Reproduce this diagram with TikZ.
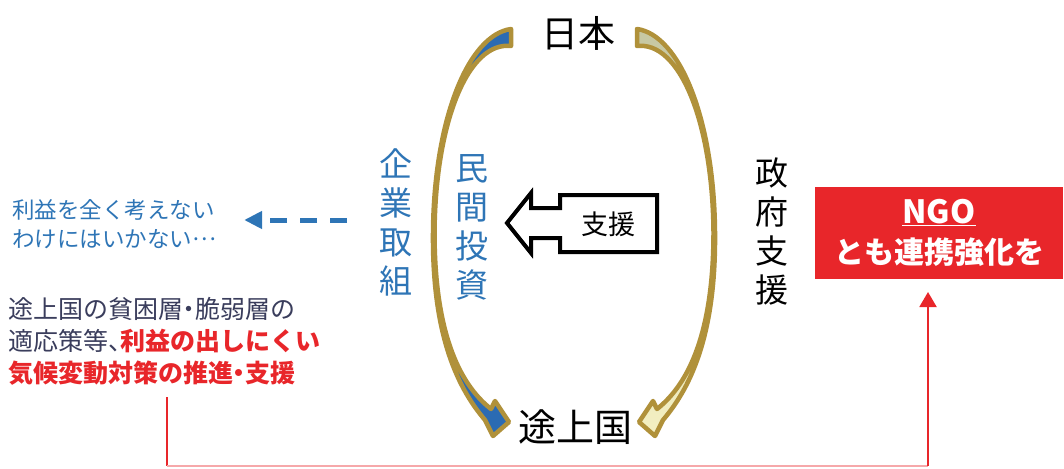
\documentclass[tikz,border=0pt]{standalone}
\usepackage{fontspec}
\setmainfont{Noto Sans CJK JP}
\usetikzlibrary{arrows.meta}
\definecolor{gold}{HTML}{B0913A}
\definecolor{arcblue}{HTML}{2B6BB3}
\definecolor{txtblue}{HTML}{2E75B6}
\definecolor{darktxt}{HTML}{3A3D5C}
\definecolor{accred}{HTML}{E8262A}
\definecolor{khaki}{HTML}{C6C7A2}
\definecolor{paleyel}{HTML}{F4F0C2}
\newcommand{\halfdot}{\makebox[0.5em][c]{・}}
\begin{document}
\begin{tikzpicture}[x=1pt,y=-1pt,
  arcband/.style={draw=gold, line width=4.5pt, line join=round},
  vtext/.style={align=center, inner sep=0pt, font=\fontsize{33}{39}\selectfont},
  bigtext/.style={inner sep=0pt, font=\fontsize{37}{40}\selectfont},
  calloutshape/.style={draw=black, line width=4pt, fill=white, line join=miter},
  dasharrow/.style={draw=txtblue, line width=5pt, dash pattern=on 17pt off 13pt, -{Triangle[length=18pt,width=17pt]}},
  redln/.style={draw=accred, line width=2pt},
  ngobox/.style={fill=accred, minimum width=248pt, minimum height=92pt, inner sep=0pt, text=white, align=center, font=\fontsize{30}{40}\selectfont\bfseries}
]
\useasboundingbox (0,0) rectangle (1064,468);

% curved arrows
\path[arcband, fill=arcblue] (511,46) -- (511,29) .. controls (468,35) and (434,120) .. (433,232)
  .. controls (432,330) and (455,385) .. (485,420) -- (493,436) -- (509,422) -- (495,401) -- (491,409)
  .. controls (458,383) and (434.5,330) .. (434.5,232) .. controls (435.5,120) and (469,41) .. (511,46) -- cycle;
\path[arcband, top color=khaki, bottom color=paleyel] (637,46) -- (637,29) .. controls (680,35) and (714,120) .. (715,232)
  .. controls (716,330) and (693,385) .. (663,420) -- (655,436) -- (639,422) -- (653,401) -- (657,409)
  .. controls (690,383) and (713.5,330) .. (713.5,232) .. controls (712.5,120) and (679,41) .. (637,46) -- cycle;

\node[bigtext] (japan) at (578,33) {日本};
\node[bigtext, font=\fontsize{38}{40}\selectfont] (devc) at (575,427) {途上国};

\node[vtext, text=txtblue] (kigyo) at (396,222) {企\\業\\取\\組};
\node[vtext, text=txtblue] (minkan) at (472,227) {民\\間\\投\\資};
\node[vtext, text=black] (seifu) at (772,232) {政\\府\\支\\援};

% callout arrow
\path[calloutshape] (507,223) -- (531,193) -- (531,208) -- (560,208) -- (560,195) -- (657,195)
  -- (657,252) -- (560,252) -- (560,238) -- (531,238) -- (531,253) -- cycle;
\node[inner sep=0pt, font=\fontsize{27}{30}\selectfont] (shien) at (608,224) {支援};

% left blue text and dashed arrow
\node[anchor=west, inner sep=0pt, align=left, text=txtblue, font=\fontsize{22.5}{29}\selectfont] (rieki) at (12,224) {利益を全く考えない\\わけにはいかない\raisebox{0.3em}{\makebox[1.1em][c]{…}}};
\coordinate (dashstart) at (347,220);
\draw[dasharrow, shorten >=27pt] (dashstart) -- (rieki.east |- dashstart);

% lower left text
\node[anchor=north west, inner sep=0pt, align=left, font=\fontsize{25}{32}\selectfont] (poor) at (8,297)
  {\textcolor{darktxt}{途上国の貧困層\halfdot 脆弱層の}\\\textcolor{darktxt}{適応策等\makebox[0.5em][l]{、}}\textcolor{accred}{\bfseries 利益の出しにくい}\\\textcolor{accred}{\bfseries 気候変動対策の推進\halfdot 支援}};

% NGO box
\node[ngobox] (ngo) at (939,233) {{\fontsize{32}{40}\selectfont\underline{NGO}}\\とも連携強化を};

% red connector
\coordinate (redfrom) at (167,397);
\coordinate (redlow) at (167,466);
\coordinate (redright) at (928,466);
\coordinate (ngoin) at (928,292);
\draw[redln] (redfrom) -- (redlow);
\draw[redln, draw=accred!40] (redlow) -- (redright);
\draw[redln, -{Triangle[length=15pt,width=17pt]}] (redright) -- (ngoin);
\end{tikzpicture}
\end{document}
